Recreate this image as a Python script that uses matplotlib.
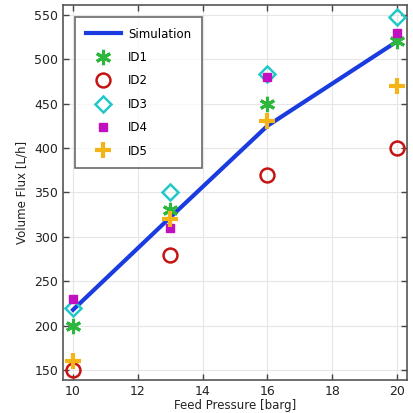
import matplotlib
matplotlib.use("Agg")
import matplotlib.pyplot as plt

pressure = [10, 13, 16, 20]
simulation = [218, 322, 425, 520]
id1 = [200, 330, 450, 520]
id2 = [150, 280, 370, 400]
id3 = [220, 350, 483, 548]
id4 = [230, 310, 480, 530]
id5 = [160, 320, 430, 470]

plt.rcParams['font.family'] = ['DejaVu Sans']
fig = plt.figure(figsize=(4.13, 4.13), dpi=100)
ax = fig.add_axes([63/413, 33/413, 344/413, 375/413])

ax.plot(pressure, simulation, color='#1a3be0', lw=3, label='Simulation', zorder=3)
ax.plot(pressure, id1, ls='none', marker=(6, 2, 0), ms=11, mew=2.2, color='#2db83d', label='ID1', zorder=4)
ax.plot(pressure, id2, ls='none', marker='o', ms=10, mew=1.8, mfc='none', mec='#c41414', label='ID2', zorder=4)
ax.plot(pressure, id3, ls='none', marker='D', ms=8, mew=1.8, mfc='none', mec='#22c8c8', label='ID3', zorder=4)
ax.plot(pressure, id4, ls='none', marker='s', ms=6, color='#c010c0', label='ID4', zorder=4)
ax.plot(pressure, id5, ls='none', marker='+', ms=12, mew=3, color='#f5b416', label='ID5', zorder=4)

ax.set_xlim(9.69, 20.31)
ax.set_ylim(139, 561)
ax.set_xticks([10, 12, 14, 16, 18, 20])
ax.set_yticks([150, 200, 250, 300, 350, 400, 450, 500, 550])
ax.grid(True, color='#e6e6e6', lw=0.8)
ax.set_axisbelow(True)
ax.tick_params(direction='in', top=True, right=True, labelsize=9, color='#444444', length=4, width=1, labelcolor='#222222')
for s in ax.spines.values():
    s.set_color('#555555')
    s.set_linewidth(1.2)
ax.set_xlabel('Feed Pressure [barg]', fontsize=8.5, labelpad=1, color='#222222')
ax.set_ylabel('Volume Flux [L/h]', fontsize=8.5, labelpad=4, color='#222222')

leg = ax.legend(loc='upper left', bbox_to_anchor=(0.035, 0.968), borderaxespad=0, fontsize=8.5,
                frameon=True, fancybox=False, shadow=False, edgecolor='#444444', borderpad=0.9,
                labelspacing=0.88, handlelength=3.0, handletextpad=0.6)
leg.get_frame().set_linewidth(1.2)

fig.savefig('out.png', dpi=100)
